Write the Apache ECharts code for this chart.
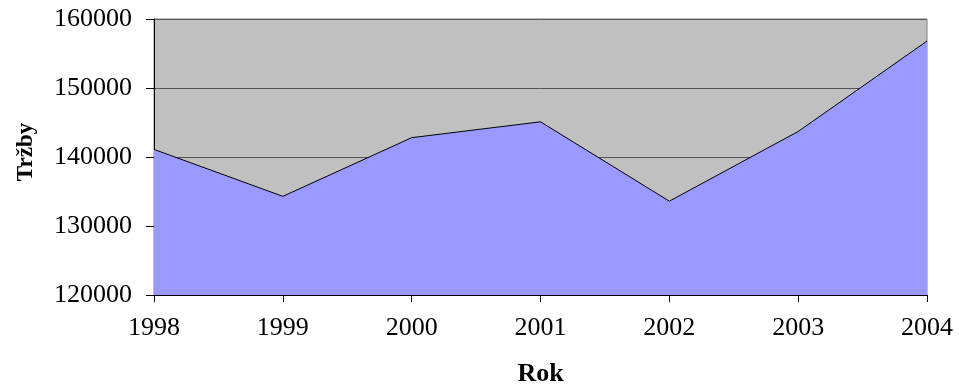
<!DOCTYPE html>
<html>
<head>
<meta charset="utf-8">
<script src="https://cdn.jsdelivr.net/npm/echarts@6/dist/echarts.min.js"></script>
<style>html,body{margin:0;padding:0;background:#fff}#c{width:959px;height:392px}</style>
</head>
<body>
<div id="c"></div>
<script>
var years = ['1998','1999','2000','2001','2002','2003','2004'];
var sales = [141100, 134300, 142800, 145100, 133600, 143700, 156800];
var yTicks = {min:120000, max:160000, interval:10000};
var xTitle = 'Rok';
var yTitle = 'Tržby';

var font = '"Liberation Serif", "Times New Roman", serif';
var chart = echarts.init(document.getElementById('c'), null, {renderer:'canvas'});
chart.setOption({
  animation:false,
  backgroundColor:'#ffffff',
  grid:{left:154, right:32, top:19, bottom:94, show:true, backgroundColor:'#C0C0C0', borderColor:'#808080', borderWidth:1},
  xAxis:{
    type:'category', data:years, boundaryGap:false,
    name:xTitle, nameLocation:'middle', nameGap:66,
    nameTextStyle:{fontFamily:font, fontSize:26, fontWeight:'bold', color:'#000'},
    axisLine:{lineStyle:{color:'#000', width:1}},
    axisTick:{show:true, length:7, lineStyle:{color:'#000'}},
    axisLabel:{fontFamily:font, fontSize:26, color:'#000', margin:20},
    splitLine:{show:false}
  },
  yAxis:{
    type:'value', min:yTicks.min, max:yTicks.max, interval:yTicks.interval,
    name:yTitle, nameLocation:'middle', nameGap:116, nameRotate:90,
    nameTextStyle:{fontFamily:font, fontSize:23, fontWeight:'bold', color:'#000', padding:[0,0,0,10]},
    axisLine:{show:true, lineStyle:{color:'#000', width:1}},
    axisTick:{show:true, length:8, lineStyle:{color:'#000'}},
    axisLabel:{fontFamily:font, fontSize:26, color:'#000', margin:22, formatter:function(v){return String(v);}},
    splitLine:{show:true, lineStyle:{color:'#555555', width:1}}
  },
  series:[{
    type:'line', data:sales, symbol:'none',
    lineStyle:{color:'#000', width:1},
    areaStyle:{color:'#9999FF', opacity:1, origin:'start'},
    z:3
  }]
});
</script>
</body>
</html>
